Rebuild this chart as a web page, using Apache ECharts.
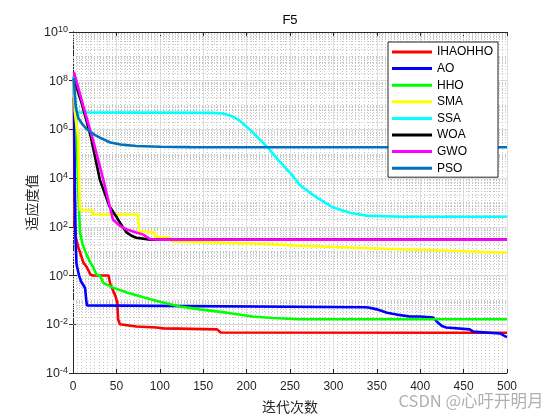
<!DOCTYPE html>
<html><head><meta charset="utf-8">
<script src="https://cdn.jsdelivr.net/npm/echarts@6/dist/echarts.min.js"></script>
<style>html,body{margin:0;padding:0;background:#fff}#c{width:560px;height:420px}</style>
</head><body><div id="c"></div>
<script>
// ---------- data ----------
const seriesNames = ['IHAOHHO', 'AO', 'HHO', 'SMA', 'SSA', 'WOA', 'GWO', 'PSO'];
const seriesColors = ['#FF0000', '#0000FF', '#00FF00', '#FFFF00', '#00FFFF', '#000000', '#FF00FF', '#0072BD'];
const xTickValues = [0, 50, 100, 150, 200, 250, 300, 350, 400, 450, 500];
const yTickValues = [1e-4, 1e-2, 1e0, 1e2, 1e4, 1e6, 1e8, 1e10];

const ihaohhoIter = [1, 2, 3, 6, 12, 16, 20, 23, 41, 43, 46, 49, 51, 52, 54, 73, 96, 104, 166, 170, 500];
const ihaohhoVal  = [2e7, 100, 40, 15, 3.4, 2.2, 1.1, 1.0, 1.0, 0.43, 0.25, 0.14, 0.08, 0.016, 0.0100, 0.0081, 0.0074, 0.0068, 0.0062, 0.0046, 0.0045];

const aoIter = [1, 2, 3, 4, 7, 9, 12, 14, 15, 16, 17, 336, 340, 345, 350, 355, 362, 368, 373, 388, 400, 415, 419, 425, 430, 457, 461, 492, 498, 500];
const aoVal  = [1.5e8, 1e4, 30, 3, 1.0, 0.6, 0.4, 0.3, 0.12, 0.06, 0.05, 0.05, 0.049, 0.045, 0.041, 0.036, 0.030, 0.027, 0.025, 0.021, 0.021, 0.019, 0.013, 0.0085, 0.0074, 0.0062, 0.0050, 0.0042, 0.0032, 0.0030];

const hhoIter = [1, 4, 6, 8, 11, 14, 16, 20, 23, 27, 31, 35, 46, 62, 81, 100, 123, 146, 177, 207, 230, 260, 500];
const hhoVal  = [1e8, 1e6, 4e3, 60, 20, 10, 8.7, 3.4, 2.3, 1.1, 1.0, 0.5, 0.32, 0.2, 0.13, 0.085, 0.054, 0.041, 0.030, 0.021, 0.018, 0.016, 0.016];

const smaIter = [1, 2, 4, 6, 7, 8, 22, 23, 75, 76, 94, 95, 97, 112, 114, 219, 260, 300, 350, 400, 450, 500];
const smaVal  = [1.2e8, 6e6, 1.5e6, 5e5, 1e4, 480, 480, 320, 320, 66, 58, 39, 36, 36, 25, 20, 17, 15, 13, 11.5, 10, 8.7];

const ssaIter = [1, 2, 3, 5, 160, 173, 184, 192, 200, 212, 225, 238, 250, 261, 273, 281, 300, 319, 338, 377, 500];
const ssaVal  = [1.5e8, 3e7, 8e6, 5e6, 4.8e6, 4.5e6, 3.4e6, 2.3e6, 1.3e6, 5.1e5, 1.7e5, 4.8e4, 1.7e4, 5.4e3, 2.5e3, 1.6e3, 620, 380, 290, 260, 260];

const woaIter = [1, 10, 20, 31, 42, 48, 50, 54, 58, 62, 68, 73, 89, 500];
const woaVal  = [1.2e8, 1.2e7, 6e5, 8.5e3, 700, 330, 260, 150, 90, 58, 42, 36, 30, 30];

const gwoIter = [1, 12, 23, 35, 46, 54, 62, 72, 81, 89, 100, 500];
const gwoVal  = [2.3e8, 8.7e6, 3.7e5, 8.5e3, 200, 110, 78, 60, 48, 31, 30, 30];

const psoIter = [1, 2, 3, 4, 6, 8, 10, 15, 20, 25, 31, 43, 55, 73, 100, 135, 500];
const psoVal  = [1.3e8, 3e7, 1e7, 6.3e6, 3e6, 2.5e6, 1.8e6, 1.1e6, 8e5, 6e5, 4.6e5, 2.9e5, 2.4e5, 2.1e5, 1.95e5, 1.88e5, 1.86e5];

// ---------- build ----------
const iterLists = [ihaohhoIter, aoIter, hhoIter, smaIter, ssaIter, woaIter, gwoIter, psoIter];
const valLists = [ihaohhoVal, aoVal, hhoVal, smaVal, ssaVal, woaVal, gwoVal, psoVal];
const zip = (xs, ys) => xs.map((x, i) => [x, ys[i]]);

// minor log gridlines (2..9 x 10^k, and odd decades)
const minorY = [];
for (let k = -4; k < 10; k++) {
  for (let m = 1; m <= 9; m++) {
    if (m === 1 && k % 2 === 0) continue;
    minorY.push(m * Math.pow(10, k));
  }
}

const FONT = '"Liberation Sans", Arial, Helvetica, sans-serif';
const AX = '#262626';
const yLabelFmt = v => {
  const e = Math.round(Math.log10(v));
  return '{b|10}{e|' + e + '}';
};

const chart = echarts.init(document.getElementById('c'), null, {renderer: 'canvas'});
const series = seriesNames.map((n, i) => ({
  name: n, type: 'line', data: zip(iterLists[i], valLists[i]),
  showSymbol: false, symbol: 'none', z: 3,
  lineStyle: {width: 2.6, color: seriesColors[i], type: 'solid'},
  itemStyle: {color: seriesColors[i], borderWidth: 0}
}));
series.unshift({
  name: '_grid', type: 'line', data: [], z: 1, silent: true,
  markLine: {
    silent: true, symbol: 'none', animation: false, z: 1,
    label: {show: false},
    lineStyle: {color: '#c6c6c6', type: [1, 2], width: 1},
    data: minorY.map(v => ({yAxis: v}))
  }
});

chart.setOption({
  animation: false,
  backgroundColor: '#fff',
  color: seriesColors,
  grid: {left: 73, right: 53, top: 32, bottom: 47, containLabel: false},
  graphic: [
    {type: 'text', x: 290, y: 20, style: {text: 'F5', align: 'center', verticalAlign: 'middle', font: '13px ' + FONT, fill: '#000'}},
    {type: 'text', x: 471, y: 401, style: {text: 'CSDN @心吁开明月', align: 'center', verticalAlign: 'middle', font: '16.5px "Noto Sans CJK SC", ' + FONT, fill: '#b0b0b0'}}
  ],
  legend: {
    z: 50, zlevel: 0,
    data: seriesNames, orient: 'vertical', left: 388, top: 42,
    padding: [3, 5, 2, 4], itemGap: 2.6, itemWidth: 40, itemHeight: 3,
    icon: 'rect',
    itemStyle: {borderWidth: 0},
    backgroundColor: '#fff', borderColor: AX, borderWidth: 1, borderRadius: 0,
    textStyle: {fontSize: 12, fontFamily: FONT, color: '#000', lineHeight: 14}
  },
  xAxis: [{
    type: 'value', min: 0, max: 500, interval: 50,
    name: '迭代次数', nameLocation: 'middle', nameGap: 27,
    nameTextStyle: {fontSize: 14, fontFamily: '"Noto Sans CJK SC"', color: AX},
    axisLine: {show: true, lineStyle: {color: AX, width: 1}},
    axisTick: {show: true, inside: true, length: 4, lineStyle: {color: AX}},
    axisLabel: {fontSize: 12, fontFamily: FONT, color: AX, margin: 8},
    splitLine: {show: true, lineStyle: {color: '#dedede', width: 1}},
    minorTick: {show: false, splitNumber: 10},
    minorSplitLine: {show: true, lineStyle: {color: '#c6c6c6', type: [1, 2], width: 1}}
  }, {
    type: 'value', min: 0, max: 500, interval: 50, position: 'top',
    axisLine: {show: true, onZero: false, lineStyle: {color: AX, width: 1}},
    axisTick: {show: true, inside: true, length: 4, lineStyle: {color: AX}},
    axisLabel: {show: false}, splitLine: {show: false}
  }],
  yAxis: [{
    type: 'log', logBase: 10, min: 1e-4, max: 1e10, interval: 2, splitNumber: 7,
    name: '适应度值', nameLocation: 'middle', nameGap: 34, nameRotate: 90, nameMoveOverlap: false,
    nameTextStyle: {fontSize: 14, fontFamily: '"Noto Sans CJK SC"', color: AX},
    axisLine: {show: true, lineStyle: {color: AX, width: 1}},
    axisTick: {show: true, inside: true, length: 4, lineStyle: {color: AX}, customValues: yTickValues},
    axisLabel: {
      customValues: yTickValues, formatter: yLabelFmt, margin: 5, color: AX,
      rich: {
        b: {fontSize: 12.5, fontFamily: FONT, color: AX, verticalAlign: 'bottom', lineHeight: 14},
        e: {fontSize: 9, fontFamily: FONT, color: AX, verticalAlign: 'top', padding: [0, 0, 7, 0], lineHeight: 14}
      }
    },
    splitLine: {show: true, lineStyle: {color: '#dedede', width: 1}}
  }, {
    type: 'log', logBase: 10, min: 1e-4, max: 1e10, interval: 2, splitNumber: 7, position: 'right',
    axisLine: {show: true, lineStyle: {color: AX, width: 1}},
    axisTick: {show: true, inside: true, length: 4, lineStyle: {color: AX}, customValues: yTickValues},
    axisLabel: {show: false}, splitLine: {show: false}
  }],
  series: series
});
</script></body></html>
